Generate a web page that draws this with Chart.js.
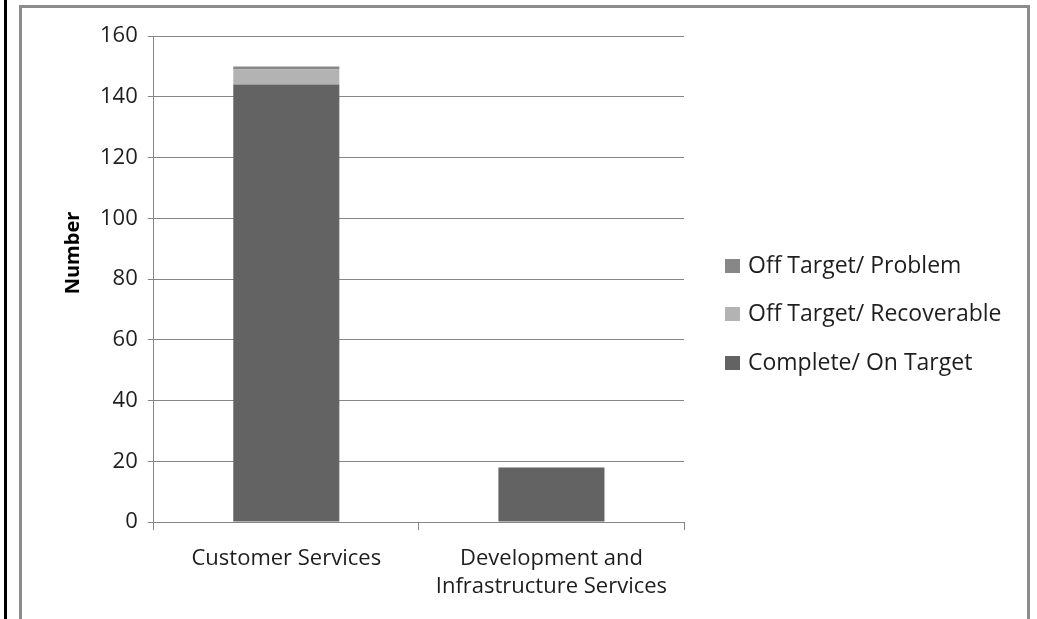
<!DOCTYPE html>
<html>
<head>
<meta charset="utf-8">
<script src="https://cdn.jsdelivr.net/npm/chart.js@4"></script>
<style>
  html, body { margin: 0; padding: 0; background: #fff; }
  #wrap { position: relative; width: 1037px; height: 619px; overflow: hidden; }
  #blackLine { position: absolute; left: 4px; top: 0; width: 3px; height: 619px; background: #000; }
  #frame { position: absolute; left: 19px; top: 5px; width: 1011px; height: 640px;
           border: 3px solid #8c8c8c; box-sizing: border-box; }
  #chartCanvas { position: absolute; left: 0; top: 0; }
</style>
</head>
<body>
<div id="wrap">
  <div id="blackLine"></div>
  <div id="frame"></div>
  <canvas id="chartCanvas" width="1037" height="619"></canvas>
</div>
<script>
// --- data ---
const categories = ["Customer Services", ["Development and", "Infrastructure Services"]];
const completeOnTarget = [144, 18];
const offTargetRecoverable = [5, 0];
const offTargetProblem = [1, 0];
const yTicks = [0, 20, 40, 60, 80, 100, 120, 140, 160];
const yTitle = "Number";

const canvas = document.getElementById("chartCanvas");
const font = "'Open Sans', 'DejaVu Sans', sans-serif";
const textColor = "#1e1e1e";

const datasets = [
  { label: "Complete/ On Target", data: completeOnTarget, backgroundColor: "#636363" },
  { label: "Off Target/ Recoverable", data: offTargetRecoverable, backgroundColor: "#b3b3b3" },
  { label: "Off Target/ Problem", data: offTargetProblem, backgroundColor: "#878787" }
].map(d => ({ ...d, barPercentage: 0.4, categoryPercentage: 1, borderWidth: 0 }));

// legend on the right (last series on top) + the y title, which sits a bit above centre
const sideDecor = {
  id: "sideDecor",
  afterDraw(chart) {
    const ctx = chart.ctx;
    const items = chart.data.datasets.slice().reverse();
    const rowY = [266, 314, 363];
    ctx.save();
    ctx.font = `23px ${font}`;
    ctx.textBaseline = "middle";
    items.forEach((ds, i) => {
      ctx.fillStyle = ds.backgroundColor;
      ctx.fillRect(725, rowY[i] - 7, 15, 14);
      ctx.fillStyle = textColor;
      ctx.fillText(ds.label, 748, rowY[i]);
    });
    ctx.translate(73, 253);
    ctx.rotate(-Math.PI / 2);
    ctx.textAlign = "center";
    ctx.fillStyle = "#000";
    ctx.font = `bold 20px ${font}`;
    ctx.fillText(yTitle, 0, 0);
    ctx.restore();
  }
};

new Chart(canvas, {
  type: "bar",
  data: { labels: categories, datasets },
  plugins: [sideDecor],
  options: {
    responsive: false,
    animation: false,
    layout: { padding: { left: 90, top: 36, right: 353, bottom: 3 } },
    plugins: {
      tooltip: { enabled: false },
      legend: { display: false }
    },
    scales: {
      x: {
        stacked: true,
        grid: { drawOnChartArea: false, drawTicks: true, tickLength: 8, color: "#868686", offset: true },
        border: { color: "#868686" },
        ticks: { color: textColor, font: { family: font, size: 22, lineHeight: 1.27 }, padding: 15, maxRotation: 0 }
      },
      y: {
        stacked: true,
        min: 0, max: 160,
        afterBuildTicks: axis => { axis.ticks = yTicks.map(v => ({ value: v })); },
        grid: { color: "#868686", tickLength: 6 },
        border: { color: "#868686" },
        ticks: { color: textColor, font: { family: font, size: 22 }, padding: 10 }
      }
    }
  }
});
</script>
</body>
</html>
